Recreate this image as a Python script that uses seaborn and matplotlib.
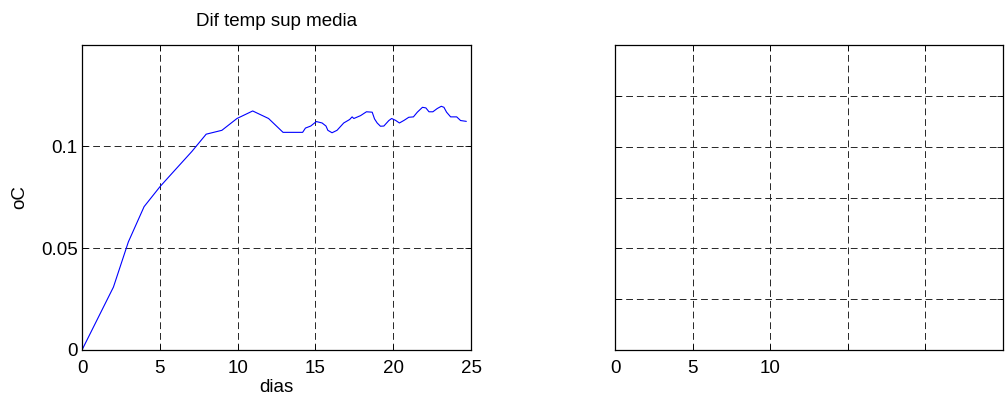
import numpy as np
import pandas as pd
import matplotlib
matplotlib.use("Agg")
import matplotlib.pyplot as plt
import seaborn as sns

# values
dias = [0, 2.02, 2.98, 3.99, 5.02, 5.99, 7.06, 7.98, 8.99, 9.96, 10.97, 11.99,
        12.92, 14.18, 14.36, 14.7, 15.06, 15.43, 15.68, 15.8, 16.07, 16.39,
        16.82, 17.2, 17.36, 17.47, 17.9, 18.28, 18.65, 18.8, 18.97, 19.18,
        19.4, 19.72, 19.9, 20.15, 20.4, 20.7, 21.0, 21.3, 21.55, 21.88, 22.1,
        22.3, 22.55, 22.83, 23.09, 23.26, 23.43, 23.69, 24.08, 24.33, 24.7]
dif_temp = [0, 0.0309, 0.0531, 0.0704, 0.0803, 0.0885, 0.0975, 0.106, 0.1079,
            0.1137, 0.1174, 0.1137, 0.1069, 0.1069, 0.109, 0.110, 0.1122,
            0.1115, 0.110, 0.1079, 0.1067, 0.1079, 0.1115, 0.1132, 0.1145,
            0.1137, 0.1151, 0.117, 0.1168, 0.1135, 0.1115, 0.1099, 0.110,
            0.1127, 0.1137, 0.1128, 0.1115, 0.1128, 0.1143, 0.1145, 0.1168,
            0.1192, 0.1189, 0.117, 0.117, 0.1186, 0.1197, 0.1192, 0.1168,
            0.1145, 0.1145, 0.1127, 0.1123]

left_yticks = [0, 0.05, 0.1]
left_ylabels = ["0", "0.05", "0.1"]
xticks = [0, 5, 10, 15, 20, 25]
right_xlabels = ["0", "5", "10", "", "", ""]
right_yticks = [0, 1, 2, 3, 4, 5, 6]

sns.set_style("ticks")
plt.rcParams['font.family'] = ['Liberation Sans', 'DejaVu Sans']
plt.rcParams['font.size'] = 14
plt.rcParams['text.color'] = 'black'
plt.rcParams['axes.labelcolor'] = 'black'
plt.rcParams['xtick.color'] = 'black'
plt.rcParams['ytick.color'] = 'black'

df = pd.DataFrame({'dias': dias, 'oC': dif_temp})

fig = plt.figure(figsize=(10.05, 4.01), dpi=100)
ax1 = fig.add_axes([82/1005, 51/401, 389/1005, 305/401])
ax2 = fig.add_axes([615/1005, 51/401, 388/1005, 305/401])

grid_kw = dict(color='0.15', linestyle=(0, (7, 4)), linewidth=0.7)

sns.lineplot(data=df, x='dias', y='oC', ax=ax1, color='#0000ff', linewidth=0.8)
ax1.set_xlim(0, 25)
ax1.set_ylim(0, 0.1498)
ax1.set_xticks(xticks)
ax1.set_yticks(left_yticks)
ax1.set_yticklabels(left_ylabels)
ax1.set_title('Dif temp sup media', fontsize=13.5, pad=14, color='black')
ax1.set_xlabel('dias', fontsize=13.5, labelpad=2)
ax1.set_ylabel('oC', fontsize=13.5, labelpad=9)

ax2.set_xlim(0, 25)
ax2.set_ylim(0, 6)
ax2.set_xticks(xticks)
ax2.set_xticklabels(right_xlabels)
ax2.set_yticks(right_yticks)
ax2.set_yticklabels([])

for ax in (ax1, ax2):
    ax.grid(True, **grid_kw)
    ax.tick_params(direction='in', top=True, right=True, length=4,
                   width=0.6, labelsize=13.5, pad=3)
    ax.tick_params(axis='x', pad=7)
    for s in ax.spines.values():
        s.set_linewidth(0.9)
        s.set_color('black')

fig.savefig('out.png', dpi=100)
